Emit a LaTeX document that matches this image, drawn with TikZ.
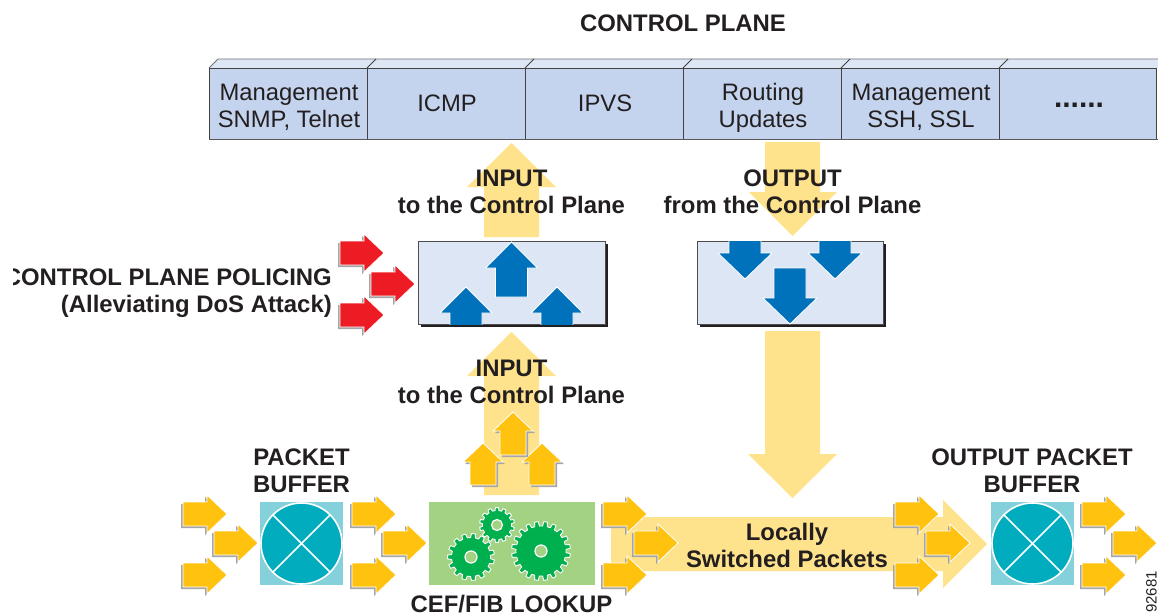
\documentclass[tikz,border=0pt]{standalone}
\usepackage{fontspec}
\setmainfont{Liberation Sans}
\definecolor{tan}{HTML}{FFE38C}
\definecolor{org}{HTML}{FFC20E}
\definecolor{redA}{HTML}{ED1C24}
\definecolor{blueA}{HTML}{0072BC}
\definecolor{teal}{HTML}{00ACBD}
\definecolor{tealL}{HTML}{84D0DB}
\definecolor{grnL}{HTML}{A3D283}
\definecolor{grnD}{HTML}{00B04F}
\definecolor{barF}{HTML}{C5D4EE}
\definecolor{barT}{HTML}{DCE6F5}
\definecolor{ink}{HTML}{231F20}
\tikzset{
  lbl/.style={font=\fontsize{23.9}{27}\selectfont\bfseries,text=ink,align=center,inner sep=0pt},
  cell/.style={font=\fontsize{23.8}{27}\selectfont,text=ink,align=center,inner sep=0pt},
  bigarrow/.style={fill=tan,draw=none},
  barline/.style={draw=ink!85,line width=0.9pt},
  panel/.style={fill=barT,draw=ink!80,line width=0.9pt},
  bluearrow/.style={fill=blueA,draw=white,line width=0.8pt},
}
% right-pointing small arrow: left x, centre y, colour
\newcommand{\rarr}[3]{%
  \fill[black!35] ({#1-2},{#2+2-12}) -- ++(24,0) -- ++(0,-7) -- ++(20,19) -- ++(-20,19) -- ++(0,-7) -- ++(-24,0) -- cycle;
  \filldraw[draw=white,line width=0.8pt,fill=#3] (#1,{#2-12}) -- ++(24,0) -- ++(0,-7) -- ++(20,19) -- ++(-20,19) -- ++(0,-7) -- ++(-24,0) -- cycle;
}
% up-pointing small arrow: tip x, tip y, bottom y
\newcommand{\uarr}[3]{%
  \fill[black!35] ({#1+2-20},{#2+2+19}) -- ++(20,-19) -- ++(20,19) -- ++(-7,0) -- ({#1+2+13},{#3+2}) -- ({#1+2-13},{#3+2}) -- ({#1+2-13},{#2+2+19}) -- cycle;
  \filldraw[draw=white,line width=0.8pt,fill=org] ({#1-20},{#2+19}) -- ++(20,-19) -- ++(20,19) -- ++(-7,0) -- ({#1+13},#3) -- ({#1-13},#3) -- ({#1-13},{#2+19}) -- cycle;
}
% blue up arrow: tip x, tip y, bottom y
\newcommand{\buarr}[3]{%
  \filldraw[bluearrow] ({#1-26},{#2+26}) -- (#1,#2) -- ({#1+26},{#2+26}) -- ({#1+16},{#2+26}) -- ({#1+16},#3) -- ({#1-16},#3) -- ({#1-16},{#2+26}) -- cycle;
}
% blue down arrow: tip x, tip y, top y
\newcommand{\bdarr}[3]{%
  \filldraw[bluearrow] ({#1-27},{#2-26}) -- (#1,#2) -- ({#1+27},{#2-26}) -- ({#1+16},{#2-26}) -- ({#1+16},#3) -- ({#1-16},#3) -- ({#1-16},{#2-26}) -- cycle;
}
% gear: cx, cy, outer r, inner r, teeth, hole r
\newcommand{\gearshape}[6]{%
  \begin{scope}[shift={(#1,#2)}]
  \pgfmathsetmacro{\st}{360/#5}
  \filldraw[fill=grnD,draw=white,line width=0.9pt,line join=round]
    (0:#4) \foreach \i in {1,...,#5} {
      -- ({(\i-1)*\st+0.2*\st}:#4) -- ({(\i-1)*\st+0.3*\st}:#3) -- ({(\i-1)*\st+0.7*\st}:#3) -- ({(\i-1)*\st+0.8*\st}:#4) -- ({\i*\st}:#4)
    } -- cycle;
  \filldraw[fill=grnL,draw=white,line width=1.2pt] (0,0) circle (#6);
  \end{scope}
}
% buffer: cx, cy
\newcommand{\bufshape}[2]{%
  \fill[tealL] ({#1-41.5},{#2-41.5}) rectangle ({#1+41.5},{#2+41.5});
  \filldraw[fill=teal,draw=white,line width=1.6pt] (#1,#2) circle (40.5);
  \draw[white,line width=1.6pt] ({#1-28.6},{#2-28.6}) -- ({#1+28.6},{#2+28.6});
  \draw[white,line width=1.6pt] ({#1-28.6},{#2+28.6}) -- ({#1+28.6},{#2-28.6});
}
\begin{document}
\begin{tikzpicture}[x=1pt,y=-1pt]
\useasboundingbox (0,0) rectangle (1158,615);

% control plane bar
\fill[barT] (209,68) -- (218,59) -- (1158,59) -- (1158,68) -- cycle;
\fill[barF] (209,68) rectangle (1156,139);
\draw[barline,draw=black!55] (209,68) -- (218,59) -- (1158,59);
\draw[barline] (209,68) -- (1156,68);
\draw[barline,draw=black!65] (209,139) -- (1158,139);
\foreach \dx in {209,367,525,683,841,999,1156}{
  \draw[barline] (\dx,68) -- (\dx,139);
}
\foreach \dx in {367,525,683,841,999}{
  \draw[barline] (\dx,68) -- ++(9,-9);
}
\node[cell] (c1) at (289,107.5) {Management\\SNMP, Telnet};
\node[cell] (c2) at (447,103.5) {ICMP};
\node[cell] (c3) at (605,103.5) {IPVS};
\node[cell] (c4) at (763,107.5) {Routing\\Updates};
\node[cell] (c5) at (921,107.5) {Management\\SSH, SSL};
\node[cell,font=\fontsize{30}{30}\selectfont\bfseries] (c6) at (1079,105) {......};

% big translucent arrows
\fill[bigarrow] (484,237) -- (484,187) -- (467,187) -- (511.5,143) -- (556,187) -- (539,187) -- (539,237) -- cycle;
\fill[bigarrow] (484,495) -- (484,376) -- (467,376) -- (511.5,332) -- (556,376) -- (539,376) -- (539,495) -- cycle;
\fill[bigarrow] (765,142) -- (820,142) -- (820,192) -- (837,192) -- (792.5,236) -- (749,192) -- (765,192) -- cycle;
\fill[bigarrow] (765,331) -- (820,331) -- (820,454) -- (837,454) -- (792.5,498) -- (748,454) -- (765,454) -- cycle;
\fill[bigarrow] (611,517) -- (943,517) -- (943,500) -- (987,544) -- (943,588) -- (943,571) -- (611,571) -- cycle;

% panels
\fill[ink] (421,244) rectangle (608,327);
\filldraw[panel] (418,241) rectangle (605,324);
\fill[ink] (700,244) rectangle (886,327);
\filldraw[panel] (697,241) rectangle (883,324);
\begin{scope}
  \clip (418,241) rectangle (605,324);
  \buarr{511.5}{242}{297}
  \buarr{466}{287}{330}
  \buarr{557}{287}{330}
\end{scope}
\begin{scope}
  \clip (697,241) rectangle (883,324);
  \bdarr{745}{279}{235}
  \bdarr{835}{279}{235}
  \bdarr{790}{324}{268}
\end{scope}

% red arrows
\rarr{340}{253}{redA}
\rarr{371}{284}{redA}
\rarr{340}{315}{redA}

% labels over arrows
\node[lbl] (title) at (683,23) {CONTROL PLANE};
\node[lbl] (inA) at (511.5,192) {INPUT\\to the Control Plane};
\node[lbl] (outA) at (792.5,192) {OUTPUT\\from the Control Plane};
\node[lbl] (inB) at (511.5,381.5) {INPUT\\to the Control Plane};
\begin{scope}
  \clip (13,250) rectangle (340,330);
  \node[lbl,align=right,anchor=east] (cpp) at (332,293) {CONTROL PLANE POLICING\\(Alleviating DoS Attack)};
\end{scope}

% upward orange arrows
\uarr{483}{443}{485}
\uarr{542}{443}{485}
\uarr{513}{412}{455}

% buffers and lookup
\bufshape{301.5}{543.5}
\bufshape{1032.5}{543.5}
\fill[grnL] (429,502) rectangle (595,585);
\gearshape{471}{557}{23.5}{19.5}{15}{6}
\gearshape{497}{525}{17.5}{14.5}{14}{5.5}
\gearshape{541}{551}{29.5}{25}{20}{6}

% orange arrows
\foreach \ax/\ay in {183/514,214/543,183/575,352/514,383/543,352/575,603/514,634/543,603/575,895/514,926/543,895/575,1082/514,1113/543,1082/575}{
  \rarr{\ax}{\ay}{org}
}

\node[lbl] (pb) at (301.5,470.5) {PACKET\\BUFFER};
\node[lbl] (opb) at (1032,470.5) {OUTPUT PACKET\\BUFFER};
\node[lbl] (cef) at (511.5,604) {CEF/FIB LOOKUP};
\node[lbl] (loc) at (787,545.5) {Locally\\Switched Packets};
\node[inner sep=0pt,font=\fontsize{15}{15}\selectfont,text=ink,rotate=90] (fig) at (1151.5,592) {92681};
\end{tikzpicture}
\end{document}
